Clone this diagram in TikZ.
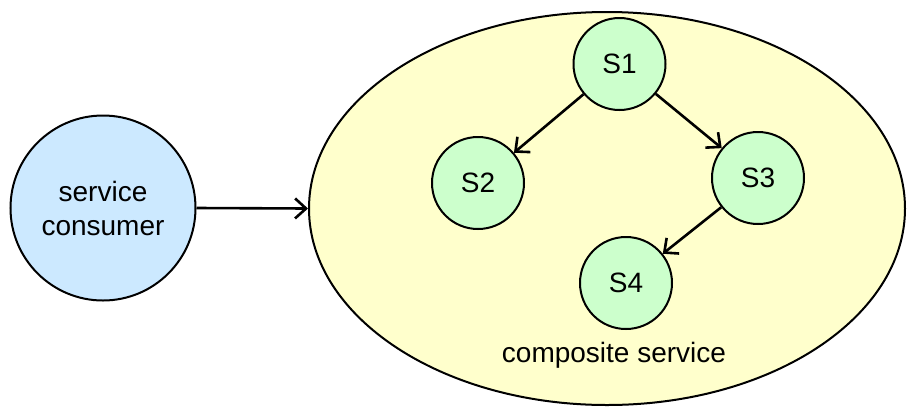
\documentclass[tikz,border=0pt]{standalone}
\usepackage{fontspec}
\setmainfont{Liberation Sans}
\usetikzlibrary{arrows.meta,shapes.geometric}
\definecolor{consumerfill}{HTML}{CCE9FF}
\definecolor{compfill}{HTML}{FFFFCC}
\definecolor{svcfill}{HTML}{CCFFCC}
\begin{document}
\begin{tikzpicture}[x=1pt,y=-1pt,
  every node/.style={font=\fontsize{28}{32}\selectfont},
  svc/.style={circle,draw=black,line width=2pt,fill=svcfill,minimum size=92pt,inner sep=0pt},
  conn/.style={line width=2.6pt,-{Straight Barb[length=11pt,width=20pt,line width=2.6pt]}}]
\useasboundingbox (0,0) rectangle (908,408);
\node[ellipse,draw=black,line width=2pt,fill=compfill,minimum width=596pt,minimum height=393pt,inner sep=0pt] (comp) at (607,208.5) {};
\node[circle,draw=black,line width=2pt,fill=consumerfill,minimum size=185pt,inner sep=0pt,align=center,font=\fontsize{28}{34}\selectfont] (cons) at (103,208) {service\\consumer};
\node[svc] (s1) at (619.5,64) {S1};
\node[svc] (s2) at (478,183) {S2};
\node[svc] (s3) at (758,178) {S3};
\node[svc] (s4) at (626,283) {S4};
\node (lbl) at (614,355) {composite service};
\draw[conn] (cons.east) -- (comp.west);
\draw[conn] (s1) -- (s2);
\draw[conn] (s1) -- (s3);
\draw[conn] (s3) -- (s4);
\end{tikzpicture}
\end{document}
